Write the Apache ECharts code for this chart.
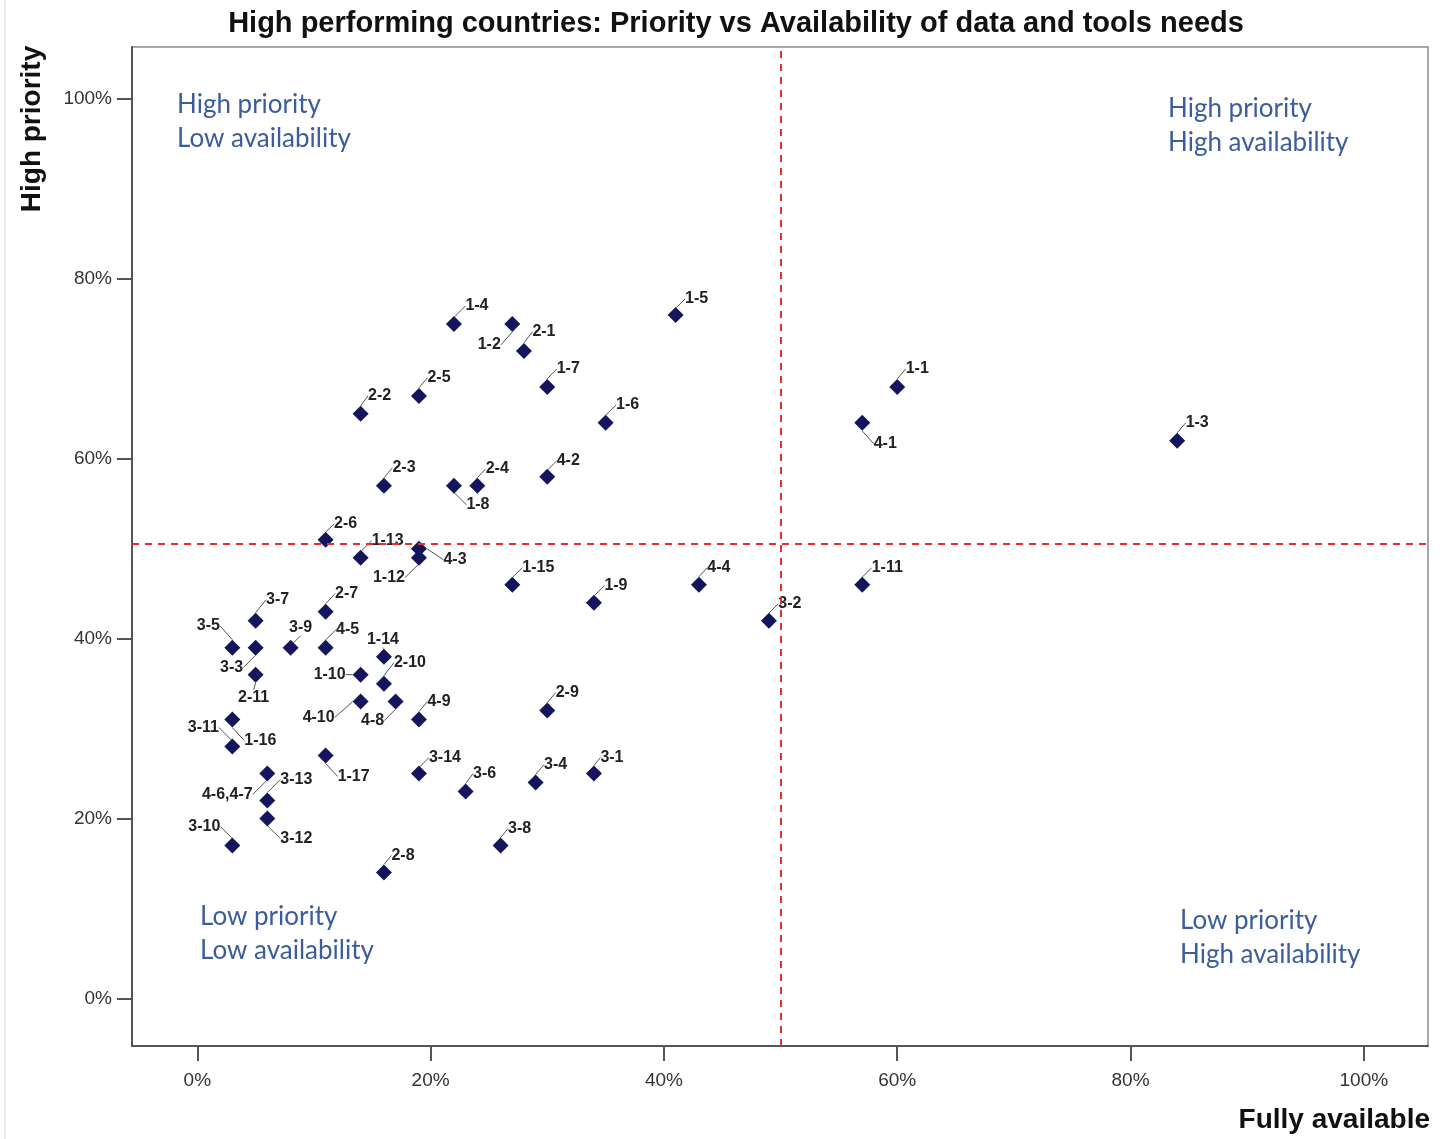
<!DOCTYPE html>
<html>
<head>
<meta charset="utf-8">
<script src="https://cdn.jsdelivr.net/npm/echarts@6/dist/echarts.min.js"></script>
<style>
html,body{margin:0;padding:0;background:#fff;}
#c{width:1450px;height:1139px;}
</style>
</head>
<body>
<div id="c"></div>
<script>
// ---- data ----
const codes = ['1-1','1-2','1-3','1-4','1-5','1-6','1-7','1-8','1-9','1-10','1-11','1-12','1-13','1-14','1-15','1-16','1-17',
  '2-1','2-2','2-3','2-4','2-5','2-6','2-7','2-8','2-9','2-10','2-11',
  '3-1','3-2','3-3','3-4','3-5','3-6','3-7','3-8','3-9','3-10','3-11','3-12','3-13','3-14',
  '4-1','4-2','4-3','4-4','4-5','4-6,4-7','4-8','4-9','4-10'];
const availability = [60,27,84,22,41,35,30,22,34,14,57,19,14,16,27,3,11,
  28,14,16,24,19,11,11,16,30,16,5,
  34,49,5,29,3,23,5,26,8,3,3,6,6,19,
  57,30,19,43,11,6,17,19,14];
const priority = [68,75,62,75,76,64,68,57,44,36,46,49,49,38,46,31,27,
  72,65,57,57,67,51,43,14,32,35,36,
  25,42,39,24,39,23,42,17,39,17,28,20,22,25,
  64,58,50,46,39,25,33,31,33];
const xTicks = [0,20,40,60,80,100];
const yTicks = [0,20,40,60,80,100];
const availabilityCut = 50;
const priorityCut = 50.6;
const titleText = 'High performing countries: Priority vs Availability of data and tools needs';
const xName = 'Fully available';
const yName = 'High priority';
const quadrantNotes = [
  'High priority\nLow availability',
  'High priority\nHigh availability',
  'Low priority\nLow availability',
  'Low priority\nHigh availability'
];

// ---- label placement (layout only) ----
const labelOffsets = {
  '1-1':[20,-18],'1-2':[-23,21],'1-3':[20,-18],'1-4':[23,-18],'1-5':[21,-16],'1-6':[22,-18],'1-7':[21,-18],
  '1-8':[24,19],'1-9':[22,-17],'1-10':[-31,0],'1-11':[25,-17],'1-12':[-30,20],'1-13':[27,-17],'1-14':[-1,-17],
  '1-15':[26,-17],'1-16':[28,21],'1-17':[28,21],
  '2-1':[20,-19],'2-2':[19,-18],'2-3':[20,-18],'2-4':[20,-17],'2-5':[20,-18],'2-6':[20,-16],'2-7':[21,-18],
  '2-8':[19,-17],'2-9':[20,-18],'2-10':[26,-21],'2-11':[-2,23],
  '3-1':[18,-16],'3-2':[21,-17],'3-3':[-24,20],'3-4':[20,-18],'3-5':[-24,-22],'3-6':[19,-18],'3-7':[22,-21],
  '3-8':[19,-17],'3-9':[10,-20],'3-10':[-28,-19],'3-11':[-29,-19],'3-12':[29,20],'3-13':[29,-21],'3-14':[26,-16],
  '4-1':[23,21],'4-2':[21,-16],'4-3':[36,11],'4-4':[20,-17],'4-5':[22,-18],'4-6,4-7':[-40,21],'4-8':[-23,19],
  '4-9':[20,-18],'4-10':[-42,16]
};

const FONT = 'Liberation Sans, Arial, sans-serif';
const QFONT = 'Lato, Open Sans, sans-serif';
const chart = echarts.init(document.getElementById('c'), null, {renderer:'canvas'});

const seriesData = codes.map((c,i)=>({name:c, value:[availability[i], priority[i]]}));

chart.setOption({
  animation:false,
  backgroundColor:'#fff',
  grid:{left:132, right:22, top:47, bottom:93, show:true, borderColor:'#8c8c8c', borderWidth:1.5, containLabel:false},
  xAxis:{
    type:'value', min:-5.6, max:105.5,
    axisLine:{show:true, onZero:false, lineStyle:{color:'#555', width:2}},
    axisTick:{show:true, inside:false, length:15, customValues:xTicks, lineStyle:{color:'#555', width:2}},
    axisLabel:{show:true, customValues:xTicks, margin:25, fontFamily:FONT, fontSize:19, color:'#333',
      formatter:v=>v+'%'},
    splitLine:{show:false}
  },
  yAxis:{
    type:'value', min:-5.3, max:105.8,
    axisLine:{show:true, onZero:false, lineStyle:{color:'#555', width:2}},
    axisTick:{show:true, inside:false, length:15, customValues:yTicks, lineStyle:{color:'#555', width:2}},
    axisLabel:{show:true, customValues:yTicks, margin:20, fontFamily:FONT, fontSize:19, color:'#333',
      formatter:v=>v+'%'},
    splitLine:{show:false}
  },
  series:[{
    type:'scatter',
    data:seriesData,
    symbol:'diamond',
    symbolSize:16,
    itemStyle:{color:'#15155e', opacity:1},
    label:{show:true, position:'inside', formatter:'{b}', fontFamily:FONT, fontSize:16, fontWeight:'bold', color:'#222'},
    labelLine:{show:true, lineStyle:{color:'#555', width:1}},
    labelLayout:function(p){
      const o = labelOffsets[codes[p.dataIndex]] || [20,-18];
      return {dx:o[0], dy:o[1]};
    },
    markLine:{
      silent:true, symbol:'none',
      label:{show:false},
      lineStyle:{color:'#e3322d', type:[7,6], width:2},
      data:[{xAxis:availabilityCut},{yAxis:priorityCut}]
    }
  }],
  graphic:[
    {type:'line', shape:{x1:5,y1:0,x2:5,y2:1139}, style:{stroke:'#d6d6d6', lineWidth:1}},
    {type:'text', x:736, y:24, style:{text:titleText, font:'bold 29px '+FONT, fill:'#111', textAlign:'center', textVerticalAlign:'middle'}},
    {type:'text', x:32, y:129, rotation:Math.PI/2, style:{text:yName, font:'bold 28px '+FONT, fill:'#111', textAlign:'center', textVerticalAlign:'middle'}},
    {type:'text', x:1430, y:1120, style:{text:xName, font:'bold 28px '+FONT, fill:'#111', textAlign:'right', textVerticalAlign:'middle'}},
    {type:'text', x:177, y:88, style:{text:quadrantNotes[0], font:'26px '+QFONT, fill:'#3b5d9c', lineHeight:34}},
    {type:'text', x:1168, y:92, style:{text:quadrantNotes[1], font:'26px '+QFONT, fill:'#3b5d9c', lineHeight:34}},
    {type:'text', x:200, y:900, style:{text:quadrantNotes[2], font:'26px '+QFONT, fill:'#3b5d9c', lineHeight:34}},
    {type:'text', x:1180, y:904, style:{text:quadrantNotes[3], font:'26px '+QFONT, fill:'#3b5d9c', lineHeight:34}}
  ]
});
</script>
</body>
</html>
